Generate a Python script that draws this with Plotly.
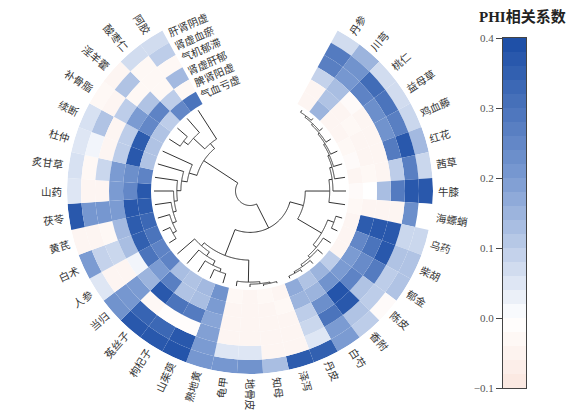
import numpy as np
import plotly.graph_objects as go

# herbs, clockwise from the top gap
HERBS = ['丹参', '川芎', '桃仁', '益母草', '鸡血藤', '红花', '茜草', '牛膝', '海螵蛸',
         '乌药', '柴胡', '郁金', '陈皮', '香附', '白芍', '丹皮', '泽泻', '知母', '地骨皮',
         '龟甲', '熟地黄', '山茱萸', '枸杞子', '菟丝子', '当归', '人参', '白术', '黄芪',
         '茯苓', '山药', '炙甘草', '杜仲', '续断', '补骨脂', '淫羊藿', '酸枣仁', '阿胶']

# syndromes, outer ring -> inner ring
SYNDROMES = ['肝肾阴虚', '肾虚血瘀', '气机郁滞', '肾虚肝郁', '脾肾阳虚', '气血亏虚']

# PHI coefficients, one list per syndrome (same order as HERBS)
phi_gsyx = [0.07, 0.15, 0.07, 0.07, 0.08, 0.14, 0.08, 0.37, 0.00, 0.08, 0.12, 0.12, -0.02,
            0.10, 0.20, 0.35, 0.36, 0.13, 0.22, 0.21, 0.21, 0.38, 0.37, 0.37, 0.22, 0.05,
            0.20, -0.04, 0.37, 0.05, 0.06, 0.05, 0.06, -0.03, -0.04, 0.07, 0.07]
phi_sxxy = [0.28, 0.22, 0.32, 0.30, 0.27, 0.37, 0.27, 0.37, 0.23, 0.08, 0.12, 0.10, 0.10,
            0.12, 0.20, 0.05, -0.04, -0.04, 0.05, 0.05, 0.20, 0.37, 0.33, 0.34, 0.21, -0.04,
            0.09, -0.04, 0.21, -0.04, -0.03, 0.02, 0.12, -0.04, 0.12, -0.03, 0.10]
phi_qjyz = [0.27, 0.21, 0.26, 0.23, 0.22, 0.28, 0.10, 0.28, -0.04, 0.37, 0.37, 0.28, 0.12,
            0.37, 0.30, 0.08, -0.04, -0.04, -0.04, -0.04, 0.19, -0.01, -0.01, -0.03, 0.20,
            -0.04, 0.08, -0.03, 0.21, -0.04, 0.08, -0.04, -0.04, 0.10, -0.03, -0.03, -0.03]
phi_sxgy = [0.09, 0.13, -0.02, -0.04, -0.04, -0.04, -0.04, 0.13, -0.04, 0.37, 0.30, 0.24,
            0.26, 0.38, 0.23, 0.10, -0.04, -0.04, -0.04, -0.04, 0.18, 0.28, 0.30, 0.37, 0.15,
            0.02, 0.13, 0.14, 0.20, 0.20, 0.20, 0.10, 0.10, 0.20, 0.12, -0.03, 0.14]
phi_psyx = [-0.04, 0.12, -0.04, -0.03, -0.04, -0.04, -0.03, 0.00, -0.04, 0.36, 0.25, 0.20,
            0.20, 0.22, 0.15, 0.15, -0.03, -0.04, -0.04, -0.04, 0.20, 0.13, 0.12, 0.27, 0.20,
            0.30, 0.35, 0.36, 0.37, 0.25, 0.23, 0.37, 0.36, 0.25, 0.26, 0.10, -0.03]
phi_qxkx = [-0.04, 0.15, -0.04, -0.04, -0.03, -0.02, -0.04, -0.02, -0.03, -0.04, -0.04, -0.04,
            0.10, 0.15, 0.12, 0.17, -0.04, -0.03, -0.04, -0.03, 0.22, 0.14, 0.12, 0.13, 0.26,
            0.26, 0.30, 0.33, 0.36, 0.37, 0.26, 0.12, 0.12, 0.12, 0.10, 0.25, 0.30]
PHI = [phi_gsyx, phi_sxxy, phi_qjyz, phi_sxgy, phi_psyx, phi_qxkx]

# dendrogram of herbs: (left, right, height), ints are herb indices
blood_grp = ((((((((0, 1, 0.3), 2, 0.5), 3, 0.7), 4, 0.9), 5, 1.1), 6, 1.3), 7, 1.6), 8, 2.0)
qi_grp = ((9, 10, 0.8), (11, (12, (13, (14, 15, 0.3), 0.5), 0.8), 1.1), 1.6)
yin_grp = (((16, 17, 0.2), 18, 0.35), 19, 0.6)
kidney_grp = ((((20, 21, 1.2), 22, 1.6), 23, 2.2), 24, 2.8)
spleen_grp = (((((((25, 26, 1.0), 27, 1.5), 28, 2.0), 29, 2.4), 30, 2.8), 31, 3.3), 32, 4.0)
tonic_grp = (((33, 34, 1.6), 35, 2.3), 36, 4.2)
TREE = (((blood_grp, qi_grp, 5.0), (yin_grp, kidney_grp, 3.3), 6.7),
        (spleen_grp, tonic_grp, 5.0), 10.0)

CBAR_TICKS = [-0.1, 0.0, 0.1, 0.2, 0.3, 0.4]

# ---- geometry, in pixels of the 586x415 window ----
# the page body has an 8px margin, so the figure itself starts at (8, 8)
OFF = 8
W, H = 586 - OFF, 415 - OFF
CX, CY = 250, 191
R_IN, R_OUT = 99, 183
RING_W = (R_OUT - R_IN) / len(SYNDROMES)
N_SLOTS = len(HERBS) + 7
STEP = 360 / N_SLOTS
theta = [(i + 4) * STEP for i in range(len(HERBS))]
R_LEAF, R_ROOT = 96, 14.5
ROOT_H = TREE[2]

COLORSCALE = [[0.0, '#fbe6df'], [0.2, '#ffffff'], [0.6, '#7b9bd2'], [1.0, '#1a4ca5']]
CMIN, CMAX = -0.1, 0.4
CJK = 'Noto Sans CJK SC'
FS = 10.5


def px(x):
    return min(1.0, max(0.0, (x - OFF) / W))


def py(y):
    return min(1.0, max(0.0, 1 - (y - OFF) / H))


fig = go.Figure()

# heatmap rings (outer ring = first syndrome)
for j, (name, vals) in enumerate(zip(SYNDROMES, PHI)):
    ring = len(SYNDROMES) - 1 - j
    fig.add_trace(go.Barpolar(
        theta=theta,
        r=[RING_W] * len(HERBS),
        base=R_IN + ring * RING_W,
        width=STEP,
        name=name,
        marker=dict(color=vals, colorscale=COLORSCALE, cmin=CMIN, cmax=CMAX,
                    line=dict(width=0)),
        customdata=HERBS,
        hovertemplate=name + ' · %{customdata}: %{marker.color:.2f}<extra></extra>',
        showlegend=False,
    ))


# dendrogram
def r_of(h):
    return R_LEAF - h * (R_LEAF - R_ROOT) / ROOT_H


seg_t, seg_r = [], []


def walk(node):
    if isinstance(node, int):
        return theta[node], 0.0
    left, right, h = node
    a1, h1 = walk(left)
    a2, h2 = walk(right)
    rn = r_of(h)
    for a, hc in ((a1, h1), (a2, h2)):
        seg_t.extend([a, a, None])
        seg_r.extend([r_of(hc), rn, None])
    arc = np.linspace(min(a1, a2), max(a1, a2), 60)
    seg_t.extend(list(arc) + [None])
    seg_r.extend([rn] * len(arc) + [None])
    return (a1 + a2) / 2, h


walk(TREE)
fig.add_trace(go.Scatterpolar(
    theta=seg_t, r=seg_r, mode='lines',
    line=dict(color='#333333', width=1),
    hoverinfo='skip', showlegend=False,
))

# colour bar drawn as a thin heatmap on the cartesian axes
band_edges = np.arange(CMIN, CMAX + 1e-9, 0.02)
band_mid = (band_edges[:-1] + band_edges[1:]) / 2
fig.add_trace(go.Heatmap(
    x=[0], y=band_mid, z=[[v] for v in band_mid],
    colorscale=COLORSCALE, zmin=CMIN, zmax=CMAX, showscale=False,
    hoverinfo='skip',
))

annotations = []
for i, name in enumerate(HERBS):
    t = theta[i]
    rc = 188 + len(name) * FS / 2
    x = CX + rc * np.sin(np.deg2rad(t))
    y = CY - rc * np.cos(np.deg2rad(t))
    ang = t - 90 if t <= 180 else t - 270
    annotations.append(dict(
        x=px(x), y=py(y), xref='paper', yref='paper', text=name,
        textangle=ang, showarrow=False, xanchor='center', yanchor='middle',
        font=dict(family=CJK, size=FS, color='#333333'),
    ))

t0 = theta[-1] + STEP / 2 + 1.0
for j, name in enumerate(SYNDROMES):
    ring = len(SYNDROMES) - 1 - j
    rr = R_IN + (ring + 0.5) * RING_W
    sx = CX + rr * np.sin(np.deg2rad(t0))
    sy = CY - rr * np.cos(np.deg2rad(t0))
    half = len(name) * FS / 2 + 1
    x = sx + half * np.cos(np.deg2rad(t0))
    y = sy + half * np.sin(np.deg2rad(t0))
    annotations.append(dict(
        x=px(x), y=py(y), xref='paper', yref='paper', text=name,
        textangle=t0 - 360 + 4, showarrow=False, xanchor='center', yanchor='middle',
        font=dict(family=CJK, size=FS, color='#333333'),
    ))

annotations.append(dict(
    x=px(522), y=py(16), xref='paper', yref='paper', text='<b>PHI相关系数</b>',
    showarrow=False, xanchor='center', yanchor='middle',
    font=dict(family='Liberation Serif, ' + CJK, size=15, color='#222222'),
))

fig.update_layout(
    width=W, height=H, autosize=False,
    margin=dict(l=0, r=0, t=0, b=0, autoexpand=False),
    paper_bgcolor='white', plot_bgcolor='white',
    polar=dict(
        domain=dict(x=[px(CX - R_OUT), px(CX + R_OUT)],
                    y=[py(CY + R_OUT), py(CY - R_OUT)]),
        bgcolor='white', hole=0, bargap=0, barmode='overlay',
        radialaxis=dict(visible=False, range=[0, R_OUT]),
        angularaxis=dict(visible=False, direction='clockwise', rotation=90),
    ),
    xaxis=dict(domain=[px(503), px(526)], showticklabels=False, ticks='',
               showgrid=False, zeroline=False, showline=True, mirror=True,
               linecolor='#444444', linewidth=1, range=[-0.5, 0.5], fixedrange=True,
               automargin=False),
    yaxis=dict(domain=[py(388), py(38)], range=[CMIN, CMAX],
               tickvals=CBAR_TICKS, tickformat='.1f', ticks='outside', ticklen=6,
               tickcolor='#444444', showgrid=False, zeroline=False, showline=True,
               mirror=True, linecolor='#444444', linewidth=1,
               tickfont=dict(family='Liberation Serif', size=11, color='#555555'),
               fixedrange=True, automargin=False),
    annotations=annotations,
)

fig.write_html('out.html')
